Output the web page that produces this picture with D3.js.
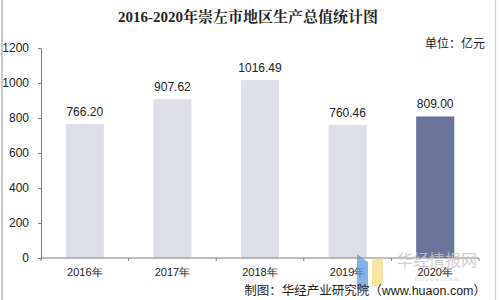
<!DOCTYPE html>
<html>
<head>
<meta charset="utf-8">
<script src="https://cdn.jsdelivr.net/npm/d3@7"></script>
<style>
  body { margin: 0; background: #fff; }
  text { font-family: "Liberation Sans", Arial, sans-serif; }
</style>
</head>
<body>
<div id="chart"></div>
<script>
// data
const years = ["2016年", "2017年", "2018年", "2019年", "2020年"];
const gdp = [766.20, 907.62, 1016.49, 760.46, 809.00];
const yTicks = [0, 200, 400, 600, 800, 1000, 1200];

const width = 500, height = 300;
const margin = {top: 48, right: 21, bottom: 42, left: 41};

let svg = d3.select("#chart")
    .append("svg")
    .attr("width", width)
    .attr("height", height);

// frame lines on the sides
svg.append("line").attr("x1", 2).attr("x2", 2).attr("y1", 0).attr("y2", height)
    .attr("stroke", "#b8b8b8").attr("stroke-width", 1.5);
svg.append("line").attr("x1", 495.5).attr("x2", 495.5).attr("y1", 0).attr("y2", height)
    .attr("stroke", "#d0d0d0").attr("stroke-width", 1.5);

let g = svg.append("g")
    .attr("transform", "translate(" + margin.left + "," + margin.top + ")");

let innerW = width - margin.left - margin.right;
let innerH = height - margin.top - margin.bottom;

let x = d3.scaleBand()
    .domain(years)
    .range([0, innerW])
    .paddingInner(0.565)
    .paddingOuter(0.2825);

let y = d3.scaleLinear()
    .domain([0, 1200])
    .range([innerH, 0]);

// y axis
let yAxis = g.append("g")
    .call(d3.axisLeft(y).tickValues(yTicks).tickFormat(d3.format("d")).tickSize(3).tickPadding(9));
yAxis.select(".domain").attr("stroke", "#7f7f7f");
yAxis.selectAll(".tick line").attr("stroke", "#7f7f7f");
yAxis.selectAll("text").style("font-size", "12px").attr("fill", "#222");

// bars
g.selectAll("rect.bar")
    .data(gdp)
    .enter()
    .append("rect")
    .attr("class", "bar")
    .attr("x", (d, i) => x(years[i]))
    .attr("y", d => y(d))
    .attr("width", x.bandwidth())
    .attr("height", d => innerH - y(d))
    .attr("fill", (d, i) => i === years.length - 1 ? "#6c749b" : "#dfe0e7");

// value labels
g.selectAll("text.val")
    .data(gdp)
    .enter()
    .append("text")
    .attr("class", "val")
    .attr("x", (d, i) => x(years[i]) + x.bandwidth() / 2)
    .attr("y", d => y(d) - 8)
    .attr("text-anchor", "middle")
    .style("font-size", "12px")
    .attr("fill", "#222")
    .text(d => d.toFixed(2));

// x axis with ticks at category boundaries
let xAxis = g.append("g")
    .attr("transform", "translate(0," + innerH + ")");
xAxis.append("line")
    .attr("x1", 0).attr("x2", innerW)
    .attr("stroke", "#7f7f7f");
let step = x.step();
xAxis.selectAll("line.tk")
    .data(d3.range(years.length + 1))
    .enter()
    .append("line")
    .attr("class", "tk")
    .attr("x1", i => i * step).attr("x2", i => i * step)
    .attr("y1", 0).attr("y2", 3)
    .attr("stroke", "#7f7f7f");
xAxis.selectAll("text")
    .data(years)
    .enter()
    .append("text")
    .attr("x", d => x(d) + x.bandwidth() / 2)
    .attr("y", 18)
    .attr("text-anchor", "middle")
    .style("font-size", "11px")
    .attr("fill", "#222")
    .text(d => d);

// watermark
svg.append("path")
    .attr("d", "M357,254 L368,262 L368,290 L357,290 Z")
    .attr("fill", "#5b9be0").attr("opacity", 0.75);
svg.append("path")
    .attr("d", "M372,260 L383,258 L383,284 L372,287 Z")
    .attr("fill", "#f5e08a").attr("opacity", 0.8);
svg.append("text")
    .text("华经情报网")
    .attr("x", 437).attr("y", 266)
    .attr("text-anchor", "middle")
    .style("font-family", "Noto Sans CJK SC")
    .style("font-size", "16px")
    .attr("fill", "#c8c8c8").attr("opacity", 0.85);
svg.append("text")
    .text("h u a o n . c o m")
    .attr("x", 437).attr("y", 281)
    .attr("text-anchor", "middle")
    .style("font-family", "Liberation Serif")
    .style("font-size", "7px")
    .attr("fill", "#d4d4d4");

// title
svg.append("text")
    .text("2016-2020年崇左市地区生产总值统计图")
    .attr("x", 248).attr("y", 22)
    .attr("text-anchor", "middle")
    .style("font-family", "Liberation Serif, Noto Serif CJK SC, Noto Sans CJK SC")
    .style("font-weight", "bold")
    .style("font-size", "15px")
    .attr("fill", "#222");

// unit
svg.append("text")
    .text("单位：亿元")
    .attr("x", 485).attr("y", 48)
    .attr("text-anchor", "end")
    .style("font-family", "Noto Sans CJK SC")
    .style("font-size", "12px")
    .attr("fill", "#222");

// source
svg.append("text")
    .text("制图：华经产业研究院（www.huaon.com）")
    .attr("x", 486).attr("y", 295)
    .attr("text-anchor", "end")
    .style("font-family", "Liberation Sans, Noto Sans CJK SC")
    .style("font-size", "12.5px")
    .attr("fill", "#222");
</script>
</body>
</html>
